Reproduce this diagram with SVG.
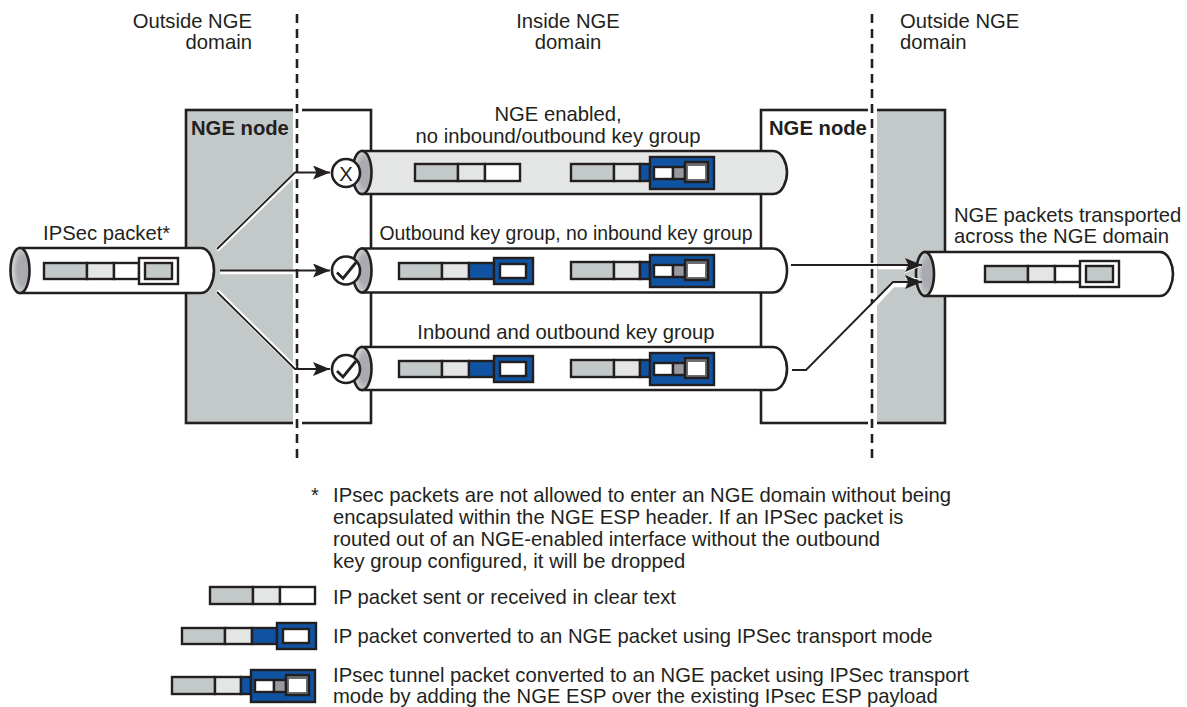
<svg xmlns="http://www.w3.org/2000/svg" xmlns:xlink="http://www.w3.org/1999/xlink" width="1187" height="707" viewBox="0 0 1187 707">
<style>
text{font-family:"Liberation Sans",Arial,sans-serif;font-size:20.25px;fill:#231f20}
.b{font-weight:bold}
.m{text-anchor:middle}
.e{text-anchor:end}
.n{font-size:19.4px}
.o{fill:none;stroke:#231f20;stroke-width:2.6}
.p{stroke:#231f20;stroke-width:2.6}
.s{stroke:#231f20;stroke-width:2.4}
.g{fill:#c3c9c8}.l{fill:#e4e5e5}.w{fill:#fff}.u{fill:#0f53a2}
.halo{fill:none;stroke:#fff;stroke-width:4.5}
.wire{fill:none;stroke:#231f20;stroke-width:1.8}
.dash{fill:none;stroke:#231f20;stroke-width:2.6;stroke-dasharray:9 6}
</style>
<defs>
<radialGradient id="bore" cx="0.66" cy="0.5" r="0.72"><stop offset="0.42" stop-color="#a9abb0"/><stop offset="0.7" stop-color="#c8cccc"/><stop offset="1" stop-color="#d8dbdb"/></radialGradient>
<marker id="arr" markerUnits="userSpaceOnUse" markerWidth="18" markerHeight="14" refX="17" refY="7" orient="auto"><path d="M0 0L17 7L0 14L3.500 7Z" fill="#231f20"/></marker>
<g id="clear">
<rect class="s g" x="0" y="0" width="43" height="17"/><rect class="s l" x="43" y="0" width="27" height="17"/><rect class="s w" x="70" y="0" width="35" height="17"/>
</g>
<g id="transport">
<rect class="s g" x="0" y="0" width="43" height="16"/><rect class="s l" x="43" y="0" width="27" height="16"/><rect class="s u" x="70" y="0" width="25" height="16"/>
<rect class="s u" x="95" y="-5" width="39" height="26"/><rect class="s w" x="101" y="1" width="26" height="14"/>
</g>
<g id="tunnel">
<rect class="s g" x="0" y="0" width="43" height="17"/><rect class="s l" x="43" y="0" width="26" height="17"/><rect class="s u" x="69" y="0" width="10" height="17"/>
<rect class="s u" x="79" y="-7" width="64" height="32"/>
<rect class="s w" x="83" y="3" width="19" height="12"/><rect class="s" fill="#999aa0" x="102" y="3" width="12" height="12"/>
<rect class="s" fill="#6d6e71" x="114" y="-2" width="23" height="20"/><rect class="w" x="117" y="2" width="17" height="13"/>
</g>
<g id="ipsec">
<rect class="s g" x="0" y="0" width="43" height="16"/><rect class="s l" x="43" y="0" width="27" height="16"/><rect class="s w" x="70" y="0" width="25" height="16"/>
<rect class="s w" x="95" y="-5" width="39" height="26"/><rect class="s g" x="101" y="0" width="27" height="16"/>
</g>
<g id="check"><path d="M-9 1.500L-3 7.500L10 -8.500" fill="none" stroke="#231f20" stroke-width="2.800"/></g>
</defs>

<g id="node-left">
<rect x="186" y="110" width="107" height="313" class="g"/>
<rect x="186" y="110" width="185" height="313" class="o"/>
<rect x="293" y="104" width="9" height="325" fill="#fff"/>
<text x="191" y="135" class="b">NGE node</text>
</g>
<g id="node-right">
<rect x="877" y="110" width="68" height="313" class="g"/>
<rect x="761" y="110" width="184" height="313" class="o"/>
<rect x="868" y="104" width="9" height="325" fill="#fff"/>
<text x="769" y="135" class="b">NGE node</text>
</g>
<g id="boundaries">
<path class="dash" d="M297 14V460"/>
<path class="dash" d="M872 14V460"/>
</g>
<g id="domain-labels">
<text x="252" y="28" class="e">Outside NGE</text><text x="252" y="49" class="e">domain</text>
<text x="568" y="28" class="m">Inside NGE</text><text x="568" y="49" class="m">domain</text>
<text x="900" y="28">Outside NGE</text><text x="900" y="49">domain</text>
</g>

<g id="pipe-ipsec">
<path class="p w" d="M20 248H201C210 248 214 262 214 270.500C214 279 210 293 201 293H20Z"/>
<ellipse cx="20" cy="270.500" rx="9.500" ry="22.500" class="p" fill="url(#bore)"/>
<use xlink:href="#ipsec" x="44" y="263"/>
<text x="43" y="240">IPSec packet*</text>
</g>
<g id="pipe-1">
<path class="p l" d="M362 151H773C783 151 787 165 787 172.500C787 180 783 194 773 194H362Z"/>
<ellipse cx="362" cy="172.500" rx="9.500" ry="21.500" class="p" fill="url(#bore)"/>
<use xlink:href="#clear" x="415" y="164"/>
<use xlink:href="#tunnel" x="571" y="164"/>
<text x="558" y="121" class="m">NGE enabled,</text>
<text x="558" y="143" class="m">no inbound/outbound key group</text>
</g>
<g id="pipe-2">
<path class="p w" d="M362 248.500H773C783 248.500 787 262 787 270.500C787 279 783 292.500 773 292.500H362Z"/>
<ellipse cx="362" cy="270.500" rx="9.500" ry="22" class="p" fill="url(#bore)"/>
<use xlink:href="#transport" x="399" y="263"/>
<use xlink:href="#tunnel" x="571" y="262"/>
<text x="566" y="240" class="m n">Outbound key group, no inbound key group</text>
</g>
<g id="pipe-3">
<path class="p w" d="M362 347H773C783 347 787 361 787 369C787 377 783 390 773 390H362Z"/>
<ellipse cx="362" cy="368.500" rx="9.500" ry="21.500" class="p" fill="url(#bore)"/>
<use xlink:href="#transport" x="399" y="361"/>
<use xlink:href="#tunnel" x="571" y="360"/>
<text x="566" y="339" class="m">Inbound and outbound key group</text>
</g>
<g id="pipe-out">
<path class="p w" d="M925 252H1160C1169 252 1173 266 1173 274C1173 282 1169 296 1160 296H925Z"/>
<ellipse cx="925" cy="274" rx="9" ry="22" class="p" fill="url(#bore)"/>
<use xlink:href="#ipsec" x="985" y="266"/>
<text x="954" y="222">NGE packets transported</text>
<text x="954" y="243">across the NGE domain</text>
</g>

<g id="connectors">
<path class="halo" d="M217 250L295 174"/><path class="halo" d="M220 272H293"/><path class="halo" d="M217 291L295 368"/>
<path class="wire" d="M217 249L295 172.500H330" marker-end="url(#arr)"/>
<path class="wire" d="M220 270.500H330" marker-end="url(#arr)"/>
<path class="wire" d="M217 292L295 369H330" marker-end="url(#arr)"/>
<path class="halo" d="M878 267H906"/><path class="halo" d="M868 312L893 285H906"/>
<path fill="#fff" d="M905 269L923 265.500L905 273Z"/>
<path fill="#fff" d="M907 276L923 279.500L905 279Z"/>
<path class="wire" d="M791 265H922" marker-end="url(#arr)"/>
<path class="wire" d="M792 370H806L893 282H922" marker-end="url(#arr)"/>
</g>

<g id="gate-1"><circle cx="346" cy="173" r="14" class="p w"/><text x="346" y="180.500" class="m">X</text></g>
<g id="gate-2"><circle cx="346" cy="270.500" r="14" class="p w"/><use xlink:href="#check" x="346" y="271"/></g>
<g id="gate-3"><circle cx="346" cy="369" r="14" class="p w"/><use xlink:href="#check" x="346" y="369.500"/></g>

<g id="footnote">
<text x="311" y="502">*</text>
<text x="333" y="502">IPsec packets are not allowed to enter an NGE domain without being</text>
<text x="333" y="524">encapsulated within the NGE ESP header. If an IPSec packet is</text>
<text x="333" y="546">routed out of an NGE-enabled interface without the outbound</text>
<text x="333" y="568">key group configured, it will be dropped</text>
</g>
<g id="legend">
<use xlink:href="#clear" x="210" y="587"/>
<text x="333" y="604">IP packet sent or received in clear text</text>
<use xlink:href="#transport" x="182" y="628"/>
<text x="333" y="643">IP packet converted to an NGE packet using IPSec transport mode</text>
<use xlink:href="#tunnel" x="172" y="677"/>
<text x="333" y="682">IPsec tunnel packet converted to an NGE packet using IPSec transport</text>
<text x="333" y="703">mode by adding the NGE ESP over the existing IPsec ESP payload</text>
</g>
</svg>
